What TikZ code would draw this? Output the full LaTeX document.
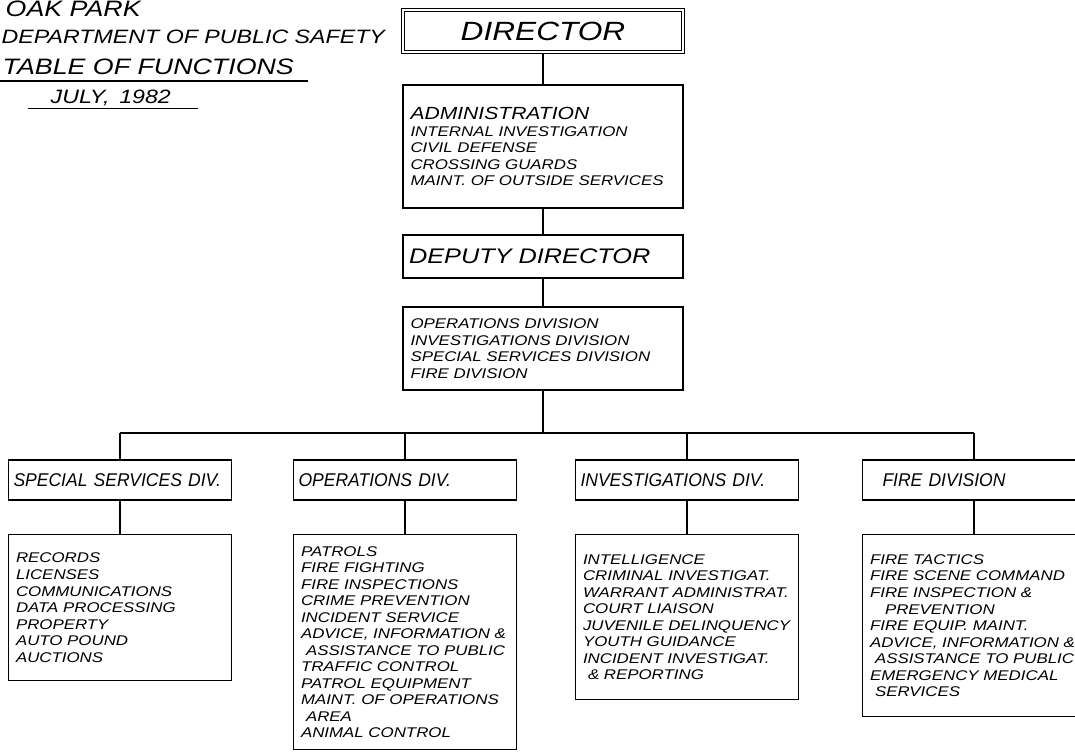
\documentclass[tikz,border=0pt]{standalone}
\usepackage{fontspec}
\newfontfamily\hand{Liberation Sans}[FakeStretch=1.2]
\newfontfamily\handhead{Liberation Sans}[FakeStretch=0.95]

\begin{document}
\begin{tikzpicture}[thick,
		orgbox/.style={draw, rectangle, inner xsep=0.15cm, inner ysep=0.1cm, align=left},
		centrebox/.style={orgbox, text width=5.3cm, font=\hand\itshape\fontsize{8}{9.4}\selectfont},
		divhead/.style={orgbox, inner xsep=0.1cm, text width=4.26cm, minimum height=0.8cm, font=\handhead\itshape\fontsize{10.5}{12}\selectfont},
		divlist/.style={orgbox, text width=4.16cm, anchor=north, font=\hand\itshape\fontsize{8}{9.4}\selectfont},
		headline/.style={anchor=base west, inner sep=0pt, font=\hand\itshape\fontsize{12.7}{14}\selectfont}]
				\useasboundingbox (0,0) rectangle (21.5,-15.1);
				
				% heading
				\node[headline] at (0.1,-0.34) (oak_park){OAK PARK};
				\node[headline, font=\hand\itshape\fontsize{11}{13}\selectfont] at (0.02,-0.88) (dept){DEPARTMENT OF PUBLIC SAFETY};
				\node[headline] at (0.04,-1.50) (tof){TABLE OF FUNCTIONS};
				\draw (0,-1.62) -- (6.16,-1.62);
				\node[headline, font=\hand\itshape\fontsize{11}{13}\selectfont] at (1.0,-2.08) (july){JULY,\enspace 1982};
				\draw (0.56,-2.17) -- (3.96,-2.17);
				
				%Director
				\node[orgbox, double, align=center, minimum width=5.6cm, minimum height=0.84cm, font=\hand\itshape\fontsize{15}{17}\selectfont] at (10.86,-0.62) (director){DIRECTOR};
				
				%Administration
				\node[centrebox, minimum height=2.46cm] at (10.86,-2.93) (admin){{\fontsize{10}{12}\selectfont ADMINISTRATION}\\
					INTERNAL INVESTIGATION\\
					CIVIL DEFENSE\\
					CROSSING GUARDS\\
					MAINT. OF OUTSIDE SERVICES};
				\draw (director) -- (admin);
				
				%Deputy director
				\node[centrebox, minimum height=0.86cm, inner xsep=0.12cm, text width=5.36cm, font=\hand\itshape\fontsize{12}{14}\selectfont] at (10.86,-5.13) (deputy){DEPUTY DIRECTOR};
				\draw (admin) -- (deputy);
				
				%Divisions
				\node[centrebox, minimum height=1.66cm] at (10.86,-6.97) (divisions){OPERATIONS DIVISION\\
					INVESTIGATIONS DIVISION\\
					SPECIAL SERVICES DIVISION\\
					FIRE DIVISION};
				\draw (deputy) -- (divisions);
				
				% bar
				\coordinate (bar_ss) at (2.40,-8.66);
				\coordinate (bar_ops) at (8.10,-8.66);
				\coordinate (bar_mid) at (10.86,-8.66);
				\coordinate (bar_inv) at (13.74,-8.66);
				\coordinate (bar_fire) at (19.48,-8.66);
				\draw (divisions) -- (bar_mid);
				\draw (bar_ss) -- (bar_fire);
				
				%Special services
				\node[divhead] at (2.40,-9.6) (ss_head){SPECIAL SERVICES DIV.};
				\node[divlist, minimum height=2.92cm] at (2.40,-10.68) (ss_list){RECORDS\\
					LICENSES\\
					COMMUNICATIONS\\
					DATA PROCESSING\\
					PROPERTY\\
					AUTO POUND\\
					AUCTIONS};
				\draw (bar_ss) -- (ss_head);
				\draw (ss_head) -- (ss_list);
				
				%Operations
				\node[divhead] at (8.10,-9.6) (ops_head){OPERATIONS DIV.};
				\node[divlist, minimum height=4.3cm] at (8.10,-10.68) (ops_list){PATROLS\\
					FIRE FIGHTING\\
					FIRE INSPECTIONS\\
					CRIME PREVENTION\\
					INCIDENT SERVICE\\
					ADVICE, INFORMATION \&\\
					\hspace*{0.1cm}ASSISTANCE TO PUBLIC\\
					TRAFFIC CONTROL\\
					PATROL EQUIPMENT\\
					MAINT. OF OPERATIONS\\
					\hspace*{0.1cm}AREA\\
					ANIMAL CONTROL};
				\draw (bar_ops) -- (ops_head);
				\draw (ops_head) -- (ops_list);
				
				%Investigations
				\node[divhead] at (13.74,-9.6) (inv_head){INVESTIGATIONS DIV.};
				\node[divlist, minimum height=3.3cm] at (13.74,-10.68) (inv_list){INTELLIGENCE\\
					CRIMINAL INVESTIGAT.\\
					WARRANT ADMINISTRAT.\\
					COURT LIAISON\\
					JUVENILE DELINQUENCY\\
					YOUTH GUIDANCE\\
					INCIDENT INVESTIGAT.\\
					\hspace*{0.1cm}\& REPORTING};
				\draw (bar_inv) -- (inv_head);
				\draw (inv_head) -- (inv_list);
				
				%Fire
				\node[divhead] at (19.48,-9.6) (fire_head){\hspace*{0.3cm}FIRE DIVISION};
				\node[divlist, minimum height=3.64cm] at (19.48,-10.68) (fire_list){FIRE TACTICS\\
					FIRE SCENE COMMAND\\
					FIRE INSPECTION \&\\
					\hspace*{0.3cm}PREVENTION\\
					FIRE EQUIP. MAINT.\\
					ADVICE, INFORMATION \&\\
					\hspace*{0.1cm}ASSISTANCE TO PUBLIC\\
					EMERGENCY MEDICAL\\
					\hspace*{0.1cm}SERVICES};
				\draw (bar_fire) -- (fire_head);
				\draw (fire_head) -- (fire_list);
\end{tikzpicture}
\end{document}
